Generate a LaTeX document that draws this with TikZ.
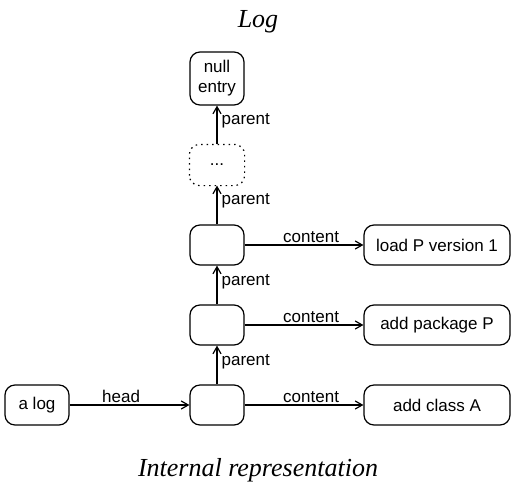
\documentclass[tikz,border=0pt]{standalone}
\usepackage{fontspec}
\setmainfont{Liberation Sans}
\newfontfamily\titlefont{Liberation Serif}
\usetikzlibrary{arrows.meta}
\begin{document}
\begin{tikzpicture}[x=1pt,y=-1pt,
  every node/.style={font=\fontsize{17}{20}\selectfont},
  box/.style={draw, line width=1.2pt, rounded corners=10pt, minimum height=40pt, inner sep=0pt, align=center},
  entry/.style={box, minimum width=54pt},
  content/.style={box, minimum width=146pt},
  link/.style={line width=1.2pt, -{Straight Barb[length=7pt,width=8pt,line width=1.2pt]}},
  lbl/.style={inner sep=2pt},
  title/.style={font=\titlefont\itshape\fontsize{26}{30}\selectfont, anchor=base}
]
\useasboundingbox (0,0) rectangle (511,496);
\node[title] (tlog) at (258,27) {Log};
\node[title] (tint) at (258,476) {Internal representation};

\node[entry, minimum height=53pt] (null) at (217,78.5) {null\\entry};
\node[entry, draw=none] (dots) at (217,165) {...};
\draw[line width=1.2pt, dash pattern=on 1.5pt off 4pt, rounded corners=10pt] (dots.south west) rectangle (dots.north east);
\node[entry] (n3) at (217,245) {};
\node[entry] (n2) at (217,325) {};
\node[entry] (n1) at (217,405) {};
\node[box, minimum width=64pt] (alog) at (37,405) {a log};
\node[content] (c3) at (437,245) {load P version 1};
\node[content] (c2) at (437,325) {add package P};
\node[content] (c1) at (437,405) {add class A};

\draw[link] (alog.east) -- node[lbl, pos=0.43, above] {head} (n1.west);
\draw[link] (n1.east) -- node[lbl, pos=0.56, above] {content} (c1.west);
\draw[link] (n2.east) -- node[lbl, pos=0.56, above] {content} (c2.west);
\draw[link] (n3.east) -- node[lbl, pos=0.56, above] {content} (c3.west);
\draw[link] (n1.north) -- node[lbl, pos=0.58, right, xshift=2pt] {parent} (n2.south);
\draw[link] (n2.north) -- node[lbl, pos=0.58, right, xshift=2pt] {parent} (n3.south);
\draw[link] (n3.north) -- node[lbl, pos=0.6, right, xshift=2pt] {parent} (dots.south);
\draw[link] (dots.north) -- node[lbl, pos=0.6, right, xshift=2pt] {parent} (null.south);
\end{tikzpicture}
\end{document}
